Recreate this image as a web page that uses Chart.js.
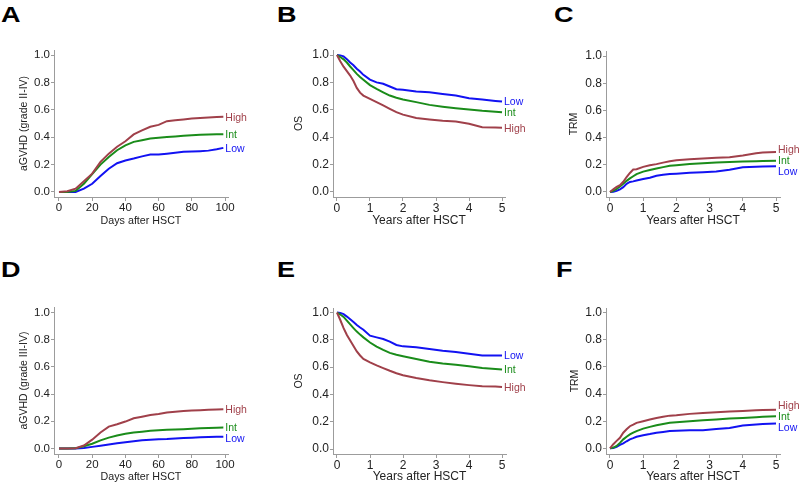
<!DOCTYPE html>
<html><head><meta charset="utf-8">
<script src="https://cdn.jsdelivr.net/npm/chart.js@4.4.1/dist/chart.umd.min.js"></script>
<style>
html,body{margin:0;padding:0;background:#fff;}
body{width:799px;height:484px;position:relative;overflow:hidden;font-family:"Liberation Sans",Arial,sans-serif;}
.lt{position:absolute;font-weight:bold;font-size:22.5px;line-height:1;color:#000;transform:scaleX(1.2);transform-origin:left top;}
.pn{position:absolute;}
</style></head><body>
<div class="lt" style="left:1px;top:4px">A</div>
<div class="lt" style="left:277px;top:4px">B</div>
<div class="lt" style="left:554px;top:4px">C</div>
<div class="lt" style="left:1px;top:259px">D</div>
<div class="lt" style="left:277px;top:259px">E</div>
<div class="lt" style="left:556px;top:259px">F</div>
<script>
// ---------- data ----------
const groups = ["High", "Int", "Low"];
const yTicks = [0, 0.2, 0.4, 0.6, 0.8, 1.0];
const dayTicks = [0, 20, 40, 60, 80, 100];
const yearTicks = [0, 1, 2, 3, 4, 5];

const daysGrid = [0,5,10,15,20,25,30,35,40,45,50,55,60,65,70,75,80,85,90,95,99];
const yearsGridOS = [0,0.1,0.2,0.3,0.4,0.5,0.6,0.7,0.8,1.0,1.2,1.4,1.6,1.8,2.0,2.4,2.8,3.2,3.6,4.0,4.4,4.8,5.0];
const yearsGridTRM = [0,0.1,0.2,0.3,0.4,0.5,0.6,0.7,0.8,1.0,1.2,1.4,1.6,1.8,2.0,2.4,2.8,3.2,3.6,4.0,4.4,4.6,5.0];

// A: aGVHD grade II-IV
const aHigh = [0,0.005,0.024,0.078,0.134,0.22,0.28,0.33,0.37,0.42,0.45,0.476,0.49,0.517,0.524,0.53,0.537,0.541,0.544,0.547,0.549];
const aInt  = [0,0,0.008,0.06,0.13,0.2,0.256,0.305,0.341,0.366,0.378,0.39,0.396,0.402,0.406,0.41,0.414,0.417,0.419,0.421,0.422];
const aLow  = [0,0,0,0.024,0.06,0.117,0.17,0.21,0.23,0.244,0.26,0.273,0.273,0.28,0.286,0.293,0.295,0.298,0.302,0.312,0.322];
// B: OS
const bHigh = [1,0.955,0.915,0.882,0.85,0.81,0.76,0.725,0.704,0.68,0.656,0.632,0.607,0.583,0.565,0.54,0.53,0.52,0.515,0.498,0.472,0.47,0.469];
const bInt  = [1,0.985,0.968,0.945,0.916,0.89,0.862,0.84,0.82,0.78,0.753,0.728,0.704,0.688,0.675,0.656,0.636,0.623,0.612,0.603,0.593,0.586,0.583];
const bLow  = [1,0.997,0.99,0.97,0.945,0.925,0.9,0.88,0.855,0.82,0.8,0.79,0.77,0.75,0.746,0.733,0.728,0.716,0.704,0.684,0.676,0.665,0.66];
// C: TRM
const cHigh = [0,0.02,0.038,0.05,0.075,0.11,0.14,0.165,0.168,0.185,0.197,0.205,0.216,0.226,0.234,0.24,0.246,0.252,0.256,0.268,0.285,0.29,0.294];
const cInt  = [0,0.008,0.022,0.04,0.06,0.082,0.1,0.116,0.132,0.15,0.162,0.173,0.183,0.193,0.197,0.205,0.212,0.216,0.22,0.224,0.227,0.228,0.229];
const cLow  = [0,0.002,0.008,0.02,0.036,0.06,0.074,0.078,0.084,0.095,0.105,0.12,0.126,0.132,0.135,0.141,0.145,0.15,0.164,0.182,0.186,0.188,0.19];
// D: aGVHD grade III-IV
const dHigh = [0,0,0.002,0.022,0.065,0.118,0.161,0.178,0.198,0.222,0.234,0.246,0.253,0.265,0.27,0.275,0.279,0.282,0.285,0.287,0.289];
const dInt  = [0,0,0.001,0.017,0.035,0.06,0.08,0.096,0.108,0.118,0.124,0.13,0.134,0.137,0.139,0.142,0.145,0.149,0.151,0.153,0.154];
const dLow  = [0,0,0,0.003,0.012,0.02,0.029,0.038,0.046,0.053,0.06,0.065,0.068,0.07,0.074,0.077,0.079,0.082,0.084,0.086,0.087];
// E: OS
const eHigh = [1,0.945,0.885,0.835,0.795,0.755,0.715,0.685,0.66,0.635,0.613,0.593,0.573,0.555,0.54,0.52,0.503,0.49,0.478,0.468,0.46,0.457,0.455];
const eInt  = [1,0.985,0.968,0.94,0.913,0.886,0.86,0.838,0.818,0.78,0.75,0.726,0.704,0.69,0.68,0.66,0.64,0.627,0.617,0.607,0.593,0.586,0.583];
const eLow  = [1,0.997,0.988,0.97,0.95,0.93,0.908,0.89,0.874,0.83,0.818,0.806,0.787,0.762,0.752,0.745,0.733,0.72,0.71,0.697,0.685,0.685,0.685];
// F: TRM
const fHigh = [0,0.03,0.055,0.078,0.115,0.14,0.163,0.175,0.188,0.2,0.212,0.224,0.232,0.241,0.244,0.254,0.26,0.266,0.271,0.276,0.28,0.283,0.285];
const fInt  = [0,0.005,0.017,0.04,0.066,0.085,0.102,0.115,0.127,0.145,0.158,0.17,0.18,0.188,0.192,0.2,0.207,0.213,0.219,0.224,0.23,0.233,0.237];
const fLow  = [0,0.003,0.01,0.025,0.037,0.052,0.066,0.075,0.085,0.097,0.105,0.115,0.121,0.127,0.13,0.134,0.134,0.142,0.15,0.168,0.176,0.18,0.183];

const colors = {High: "#a0404a", Int: "#1a8c1a", Low: "#1212f2"};

// ---------- layout of panels ----------
const FONT = '"Liberation Sans", Arial, sans-serif';
const panels = [
  {id:"A", cv:{x:0,y:30,w:265,h:220}, area:{l:54,r:228,t:50,b:197}, xr:[-3,101.8], yr:[-0.0365,1.0365],
   xg:daysGrid, series:[aHigh,aInt,aLow], xt:dayTicks, xTitle:"Days after HSCT", yTitle:"aGVHD (grade II-IV)",
   tickF:11.5, xTF:10.7, yTF:10.5, xTitleY:221, yTitleX:24},
  {id:"B", cv:{x:265,y:30,w:265,h:220}, area:{l:333,r:505,t:50,b:197}, xr:[-0.12,5.09], yr:[-0.0365,1.0365],
   xg:yearsGridOS, series:[bHigh,bInt,bLow], xt:yearTicks, xTitle:"Years after HSCT", yTitle:"OS",
   tickF:12, xTF:12, yTF:10.5, xTitleY:221, yTitleX:299},
  {id:"C", cv:{x:530,y:30,w:269,h:220}, area:{l:606,r:780,t:51,b:197}, xr:[-0.12,5.12], yr:[-0.0368,1.0368],
   xg:yearsGridTRM, series:[cHigh,cInt,cLow], xt:yearTicks, xTitle:"Years after HSCT", yTitle:"TRM",
   tickF:12, xTF:12, yTF:10.5, xTitleY:221, yTitleX:574.5},
  {id:"D", cv:{x:0,y:285,w:265,h:199}, area:{l:54,r:228,t:307,b:454}, xr:[-3,101.8], yr:[-0.0404,1.0404],
   xg:daysGrid, series:[dHigh,dInt,dLow], xt:dayTicks, xTitle:"Days after HSCT", yTitle:"aGVHD (grade III-IV)",
   tickF:11.5, xTF:10.7, yTF:10.5, xTitleY:477.5, yTitleX:24},
  {id:"E", cv:{x:265,y:285,w:265,h:199}, area:{l:333,r:506,t:308,b:454}, xr:[-0.121,5.12], yr:[-0.0366,1.033],
   xg:yearsGridOS, series:[eHigh,eInt,eLow], xt:yearTicks, xTitle:"Years after HSCT", yTitle:"OS",
   tickF:12, xTF:12, yTF:10.5, xTitleY:477, yTitleX:299},
  {id:"F", cv:{x:530,y:285,w:269,h:199}, area:{l:606,r:780,t:308,b:454}, xr:[-0.12,5.12], yr:[-0.042,1.035],
   xg:yearsGridTRM, series:[fHigh,fInt,fLow], xt:yearTicks, xTitle:"Years after HSCT", yTitle:"TRM",
   tickF:12, xTF:12, yTF:10.5, xTitleY:477, yTitleX:575}
];

const endLabels = {
  id: "endLabels",
  afterDatasetsDraw(chart) {
    const ctx = chart.ctx;
    const items = chart.data.datasets.map((ds, i) => {
      const meta = chart.getDatasetMeta(i);
      const pt = meta.data[meta.data.length - 1];
      return {text: ds.label, color: ds.borderColor, x: pt.x, y: pt.y};
    });
    items.sort((a, b) => a.y - b.y);
    const gap = 11;
    for (let it = 0; it < 60; it++) {
      let moved = false;
      for (let i = 1; i < items.length; i++) {
        const d = items[i].y - items[i-1].y;
        if (d < gap - 0.01) { const s = (gap - d) / 2; items[i].y += s; items[i-1].y -= s; moved = true; }
      }
      if (!moved) break;
    }
    ctx.save();
    ctx.font = "10.5px " + FONT;
    ctx.textBaseline = "middle";
    ctx.textAlign = "left";
    items.forEach(o => { ctx.fillStyle = o.color; ctx.fillText(o.text, o.x + 2, o.y + 1); });
    ctx.restore();
  }
};

panels.forEach(p => {
  const div = document.createElement("div");
  div.className = "pn";
  div.style.left = p.cv.x + "px"; div.style.top = p.cv.y + "px";
  div.style.width = p.cv.w + "px"; div.style.height = p.cv.h + "px";
  const cv = document.createElement("canvas");
  cv.width = p.cv.w; cv.height = p.cv.h;
  cv.style.width = p.cv.w + "px"; cv.style.height = p.cv.h + "px";
  div.appendChild(cv);
  document.body.appendChild(div);

  const yW = p.area.l - p.cv.x;
  const xH = (p.cv.y + p.cv.h) - p.area.b;
  const padTop = p.area.t - p.cv.y;
  const padRight = (p.cv.x + p.cv.w) - p.area.r;
  const xlh = p.xTF * 1.2, ylh = p.yTF * 1.2;
  const xTitlePadB = Math.max(0, (p.cv.y + p.cv.h) - xlh / 2 - p.xTitleY);
  const yTitlePadT = Math.max(0, p.yTitleX - p.cv.x - ylh / 2);

  const datasets = groups.map((g, i) => ({
    label: g,
    data: p.xg.map((x, j) => ({x: x, y: p.series[i][j]})),
    borderColor: colors[g],
    backgroundColor: colors[g],
    borderWidth: 2,
    pointRadius: 0,
    tension: 0,
    fill: false
  }));

  const axisColor = "#9c9c9c";
  new Chart(cv, {
    type: "line",
    data: {datasets},
    plugins: [endLabels],
    options: {
      responsive: false,
      animation: false,
      events: [],
      layout: {padding: {left: 0, top: padTop, right: padRight, bottom: 0}},
      plugins: {legend: {display: false}, tooltip: {enabled: false}},
      scales: {
        x: {
          type: "linear", min: p.xr[0], max: p.xr[1],
          afterBuildTicks: s => { s.ticks = p.xt.map(v => ({value: v})); },
          afterFit: s => { s.height = xH; },
          ticks: {font: {family: FONT, size: p.tickF}, color: "#222", padding: 0, maxRotation: 0, autoSkip: false,
                  callback: v => String(v)},
          grid: {drawOnChartArea: false, drawTicks: true, tickLength: 4, color: axisColor, tickColor: axisColor},
          border: {color: axisColor, width: 1},
          title: {display: true, text: p.xTitle, color: "#222", font: {family: FONT, size: p.xTF},
                  padding: {top: 0, bottom: xTitlePadB}}
        },
        y: {
          type: "linear", min: p.yr[0], max: p.yr[1],
          afterBuildTicks: s => { s.ticks = yTicks.map(v => ({value: v})); },
          afterFit: s => { s.width = yW; },
          ticks: {font: {family: FONT, size: p.tickF}, color: "#222", padding: 1, autoSkip: false,
                  callback: v => Number(v).toFixed(1)},
          grid: {drawOnChartArea: false, drawTicks: true, tickLength: 3, color: axisColor, tickColor: axisColor},
          border: {color: axisColor, width: 1},
          title: {display: true, text: p.yTitle, color: "#222", font: {family: FONT, size: p.yTF},
                  padding: {top: yTitlePadT, bottom: 0}}
        }
      }
    }
  });
});
</script>
</body></html>
